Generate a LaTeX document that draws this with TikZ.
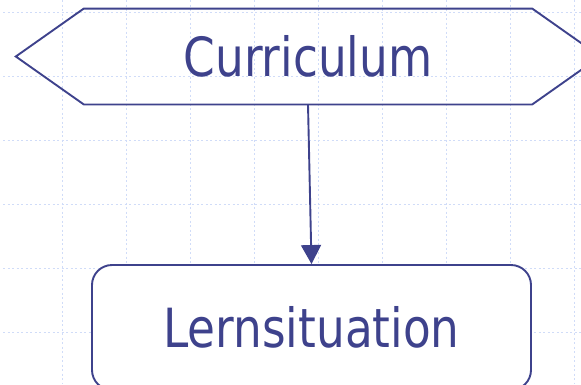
\documentclass[tikz,border=0pt]{standalone}
\usepackage{fontspec}
\setmainfont{DejaVu Sans}
\usepackage{xcolor}
\usetikzlibrary{arrows.meta,calc,positioning}

\definecolor{slideblue}{RGB}{62,66,140}
\definecolor{gridblue}{RGB}{208,220,248}

\newcommand{\slidetext}[1]{\scalebox{0.84}[1]{#1}}

\tikzset{
  gridline/.style={gridblue,line width=1pt,dash pattern=on 2pt off 2.5pt},
  outline/.style={slideblue,line width=1.9pt},
  label/.style={text=slideblue,font=\fontsize{54}{60}\selectfont,inner sep=0pt},
}

\begin{document}
\begin{tikzpicture}[x=1pt,y=-1pt]
  \useasboundingbox (0,0) rectangle (581,384);
  \clip (0,0) rectangle (581,384);
  % background grid
  \foreach \gx in {62,126,...,574}
    \draw[gridline] (\gx,0) -- (\gx,384);
  \foreach \gy in {12,76,...,332}
    \draw[gridline] (3,\gy) -- (581,\gy);
  % hexagon
  \node[label,minimum width=448pt,minimum height=95.5pt] (curr) at (308,56.5) {\slidetext{Curriculum}};
  \draw[outline,line join=miter] ($(curr.west)+(-68,0)$) -- (curr.north west) -- (curr.north east)
    -- ($(curr.east)+(68,0)$) -- (curr.south east) -- (curr.south west) -- cycle;
  % rounded box
  \node[label,draw=slideblue,line width=1.9pt,fill=white,rounded corners=20pt,
        minimum width=439pt,minimum height=125pt] (lern) at (311.5,327.5) {\slidetext{Lernsituation}};
  \draw[outline,-{Triangle[width=20pt,length=19pt]}] (curr.south) -- (lern.north);
\end{tikzpicture}
\end{document}
